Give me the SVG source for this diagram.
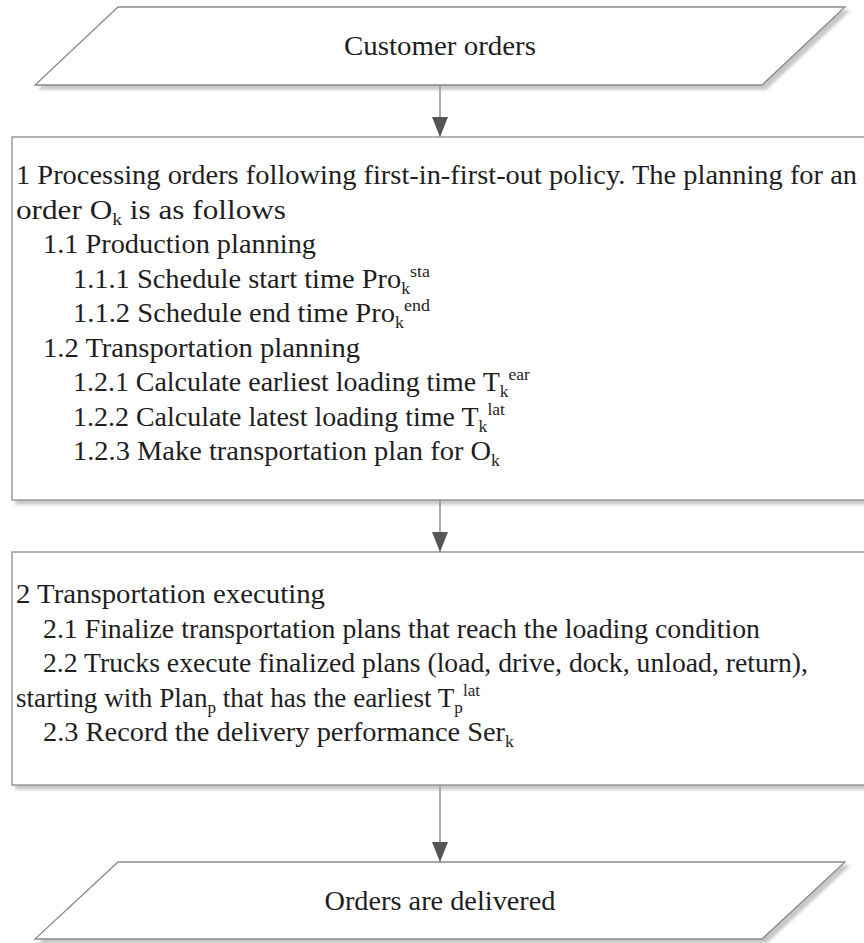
<svg xmlns="http://www.w3.org/2000/svg" width="864" height="943" viewBox="0 0 864 943">
<style>
.shape{fill:#ffffff;stroke:#8a8a8a;stroke-width:1.3;filter:url(#sh)}
.t{font-family:'Liberation Serif','Times New Roman',serif;font-size:27px;fill:#1e1e1e}
.c{text-anchor:middle}
.s{font-size:17px}
.conn{stroke:#808080;stroke-width:1.3;fill:none;marker-end:url(#ah)}
</style>
<defs>
<filter id="sh" x="-5%" y="-5%" width="115%" height="120%">
<feDropShadow dx="4" dy="4" stdDeviation="1.8" flood-color="#9a9a9a" flood-opacity="0.55"/>
</filter>
<marker id="ah" viewBox="0 0 20 16" refX="20" refY="8" markerWidth="20" markerHeight="16" markerUnits="userSpaceOnUse" orient="auto">
<path d="M0,0 L20,8 L0,16 Z" fill="#555555"/>
</marker>
</defs>
<g id="connectors">
<line class="conn" x1="440" y1="85" x2="440" y2="137"/>
<line class="conn" x1="440" y1="500" x2="440" y2="552"/>
<line class="conn" x1="440" y1="785" x2="440" y2="862"/>
</g>
<g id="start">
<polygon class="shape" points="118,7 845,7 762,85 35,85"/>
<text class="t c" font-family="Liberation Serif" x="440" y="55" textLength="192" lengthAdjust="spacingAndGlyphs">Customer orders</text>
</g>
<g id="planning">
<rect class="shape" x="12" y="137" width="862" height="363"/>
<text class="t" font-family="Liberation Serif" x="16" y="184" textLength="841" lengthAdjust="spacingAndGlyphs">1 Processing orders following first-in-first-out policy. The planning for an</text>
<text class="t" font-family="Liberation Serif" x="16" y="218.5" textLength="270" lengthAdjust="spacingAndGlyphs">order O<tspan class="s" dy="6">k</tspan><tspan dy="-6"> is as follows</tspan></text>
<text class="t" font-family="Liberation Serif" x="43" y="253" textLength="273" lengthAdjust="spacingAndGlyphs">1.1 Production planning</text>
<text class="t" font-family="Liberation Serif" x="73" y="287.5" textLength="357" lengthAdjust="spacingAndGlyphs">1.1.1 Schedule start time Pro<tspan class="s" dy="6">k</tspan><tspan class="s" dy="-17">sta</tspan></text>
<text class="t" font-family="Liberation Serif" x="73" y="322" textLength="357" lengthAdjust="spacingAndGlyphs">1.1.2 Schedule end time Pro<tspan class="s" dy="6">k</tspan><tspan class="s" dy="-17">end</tspan></text>
<text class="t" font-family="Liberation Serif" x="43" y="356.5" textLength="317" lengthAdjust="spacingAndGlyphs">1.2 Transportation planning</text>
<text class="t" font-family="Liberation Serif" x="73" y="391" textLength="457" lengthAdjust="spacingAndGlyphs">1.2.1 Calculate earliest loading time T<tspan class="s" dy="6">k</tspan><tspan class="s" dy="-17">ear</tspan></text>
<text class="t" font-family="Liberation Serif" x="73" y="425.5" textLength="432" lengthAdjust="spacingAndGlyphs">1.2.2 Calculate latest loading time T<tspan class="s" dy="6">k</tspan><tspan class="s" dy="-17">lat</tspan></text>
<text class="t" font-family="Liberation Serif" x="73" y="460" textLength="427" lengthAdjust="spacingAndGlyphs">1.2.3 Make transportation plan for O<tspan class="s" dy="6">k</tspan></text>
</g>
<g id="executing">
<rect class="shape" x="12" y="552" width="862" height="233"/>
<text class="t" font-family="Liberation Serif" x="16" y="603" textLength="309" lengthAdjust="spacingAndGlyphs">2 Transportation executing</text>
<text class="t" font-family="Liberation Serif" x="43" y="637.5" textLength="717" lengthAdjust="spacingAndGlyphs">2.1 Finalize transportation plans that reach the loading condition</text>
<text class="t" font-family="Liberation Serif" x="43" y="672" textLength="765" lengthAdjust="spacingAndGlyphs">2.2 Trucks execute finalized plans (load, drive, dock, unload, return),</text>
<text class="t" font-family="Liberation Serif" x="16" y="706.5" textLength="464" lengthAdjust="spacingAndGlyphs">starting with Plan<tspan class="s" dy="6">p</tspan><tspan dy="-6"> that has the earliest T</tspan><tspan class="s" dy="6">p</tspan><tspan class="s" dy="-17">lat</tspan></text>
<text class="t" font-family="Liberation Serif" x="43" y="741" textLength="471" lengthAdjust="spacingAndGlyphs">2.3 Record the delivery performance Ser<tspan class="s" dy="6">k</tspan></text>
</g>
<g id="end">
<polygon class="shape" points="118,862 845,862 762,939 35,939"/>
<text class="t c" font-family="Liberation Serif" x="440" y="910" textLength="231" lengthAdjust="spacingAndGlyphs">Orders are delivered</text>
</g>
</svg>
